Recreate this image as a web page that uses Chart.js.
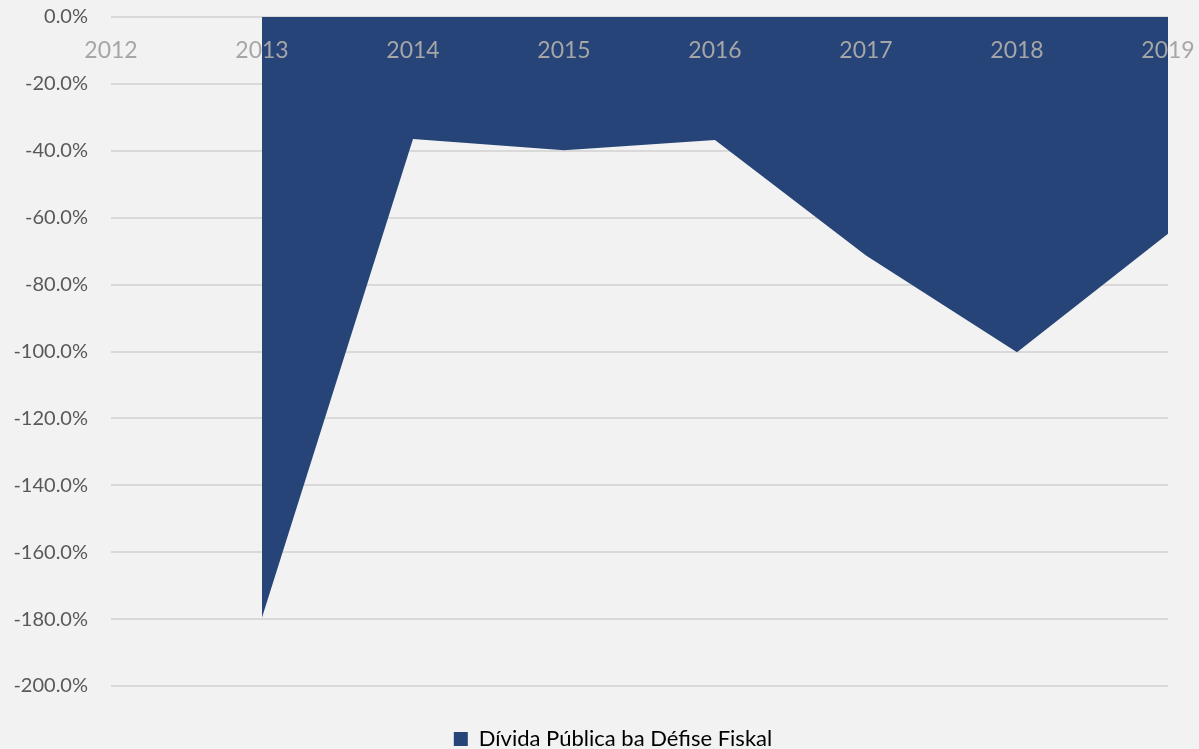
<!DOCTYPE html>
<html>
<head>
<meta charset="utf-8">
<script src="https://cdn.jsdelivr.net/npm/chart.js@4/dist/chart.umd.min.js"></script>
<style>
html,body{margin:0;padding:0;background:#f2f2f2;}
#wrap{width:1199px;height:749px;position:relative;}
</style>
</head>
<body>
<div id="wrap"><canvas id="c" width="1199" height="749"></canvas></div>
<script>
const categories = ['2012','2013','2014','2015','2016','2017','2018','2019'];
const seriesName = 'Dívida Pública ba Défise Fiskal';
const seriesValues = [null, -179.5, -36.5, -39.8, -36.8, -71.3, -100.2, -64.8];
const yTicks = { min: -200, max: 0, step: 20 };

const bgPlugin = {
  id: 'bg',
  beforeDraw(chart) {
    const ctx = chart.ctx;
    ctx.save();
    ctx.fillStyle = '#f2f2f2';
    ctx.fillRect(0, 0, chart.width, chart.height);
    ctx.restore();
  }
};

const legendShift = {
  id: 'legendShift',
  afterLayout(chart) {
    const lg = chart.legend;
    if (!lg) return;
    const dx = 29, dy = 24;
    lg.left += dx; lg.right += dx;
    lg.top += dy; lg.bottom += dy;
  }
};

new Chart(document.getElementById('c'), {
  type: 'line',
  data: {
    labels: categories,
    datasets: [{
      label: seriesName,
      data: seriesValues,
      fill: 'origin',
      backgroundColor: '#264478',
      borderColor: '#264478',
      borderWidth: 0,
      pointRadius: 0,
      tension: 0,
      spanGaps: false
    }]
  },
  options: {
    responsive: false,
    animation: false,
    layout: { padding: { top: 17, right: 31, left: 0, bottom: 13 } },
    plugins: {
      legend: {
        position: 'bottom',
        labels: {
          color: '#595959',
          font: { family: 'Lato', size: 22 },
          boxWidth: 14,
          boxHeight: 14,
          padding: 18,
          generateLabels(chart) {
            return [{ text: seriesName, fillStyle: '#264478', strokeStyle: '#264478', lineWidth: 0, datasetIndex: 0 }];
          }
        }
      },
      tooltip: { enabled: false }
    },
    scales: {
      x: {
        position: { y: 0 },
        offset: false,
        afterFit(scale) { scale.height = 0; scale.paddingLeft = 0; scale.paddingRight = 0; },
        grid: { display: false, drawTicks: false },
        border: { display: false },
        ticks: {
          z: 1,
          color: '#a6a6a6',
          font: { family: 'Lato', size: 23 },
          padding: 20,
          maxRotation: 0,
          autoSkip: false
        }
      },
      y: {
        min: yTicks.min,
        max: yTicks.max,
        afterFit(scale) { scale.width = 111; scale.paddingTop = 0; scale.paddingBottom = 0; },
        grid: { color: '#d9d9d9', lineWidth: 2, drawTicks: false },
        border: { display: false },
        ticks: {
          stepSize: yTicks.step,
          color: '#595959',
          font: { family: 'Lato', size: 20 },
          padding: 23,
          callback: v => v.toFixed(1) + '%'
        }
      }
    }
  },
  plugins: [bgPlugin, legendShift]
});
</script>
</body>
</html>
